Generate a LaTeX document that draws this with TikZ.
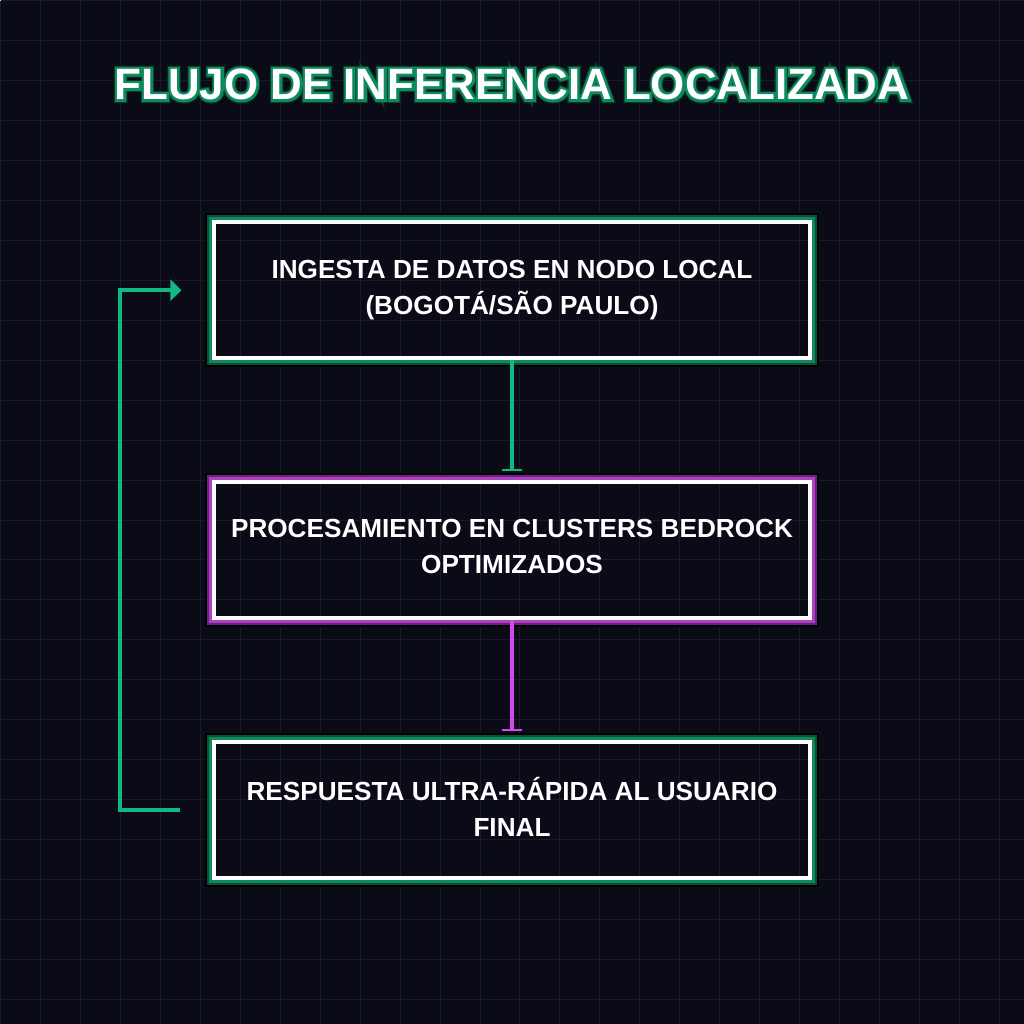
\documentclass[tikz,border=0pt]{standalone}
\usepackage{fontspec}
\setmainfont{Liberation Sans}
\newfontfamily\titleouterfont[FakeBold=16]{Liberation Sans Bold}
\newfontfamily\titleinnerfont[FakeBold=11]{Liberation Sans Bold}
\usepackage{tikz}
\usetikzlibrary{arrows.meta,positioning,calc}

\definecolor{bgdark}{HTML}{0B0B18}
\definecolor{gridline}{HTML}{1A1A2E}
\definecolor{emerald}{HTML}{10B981}
\definecolor{fuchsia}{HTML}{D946EF}
\definecolor{glowgreen}{HTML}{0F8A5F}
\definecolor{glowgreendark}{HTML}{0B4F36}
\definecolor{glowpink}{HTML}{B040C0}
\definecolor{glowpinkdark}{HTML}{6A2080}
\definecolor{titlering}{HTML}{063D2A}

\begin{document}
\begin{tikzpicture}[
  x=0.02cm, y=-0.02cm,
  font=\bfseries,
  stage/.style={draw=white, line width=0.08cm, minimum width=11.92cm, minimum height=2.72cm,
    align=center, text=white, font=\bfseries\fontsize{14.9}{20.5}\selectfont,
    execute at begin node=\rule{0pt}{15.2pt}, execute at end node=\rule[-3.6pt]{0pt}{3.6pt}},
  titletext/.style={font=\bfseries\fontsize{25}{30}\selectfont},
  flow/.style={-{Bar[width=0.42cm,line width=0.04cm]}, line width=0.08cm, shorten >=0.18cm},
  loopback/.style={-{Triangle[length=0.22cm,width=0.42cm]}, line width=0.08cm, emerald}
]
% background and grid
\fill[bgdark] (0,0) rectangle (1024,1024);
\foreach \g in {0,40,...,1000} {
  \draw[gridline, line width=0.02cm] (\g,0) -- (\g,1024);
  \draw[gridline, line width=0.02cm] (0,\g) -- (1024,\g);
}
\useasboundingbox (0,0) rectangle (1024,1024);

% title with glow
\node[titletext, font=\titleouterfont\fontsize{25}{30}\selectfont, text=titlering] (titleouter) at (512,84) {FLUJO DE INFERENCIA LOCALIZADA};
\node[titletext, font=\titleinnerfont\fontsize{25}{30}\selectfont, text=glowgreen] (titleinner) at (titleouter) {FLUJO DE INFERENCIA LOCALIZADA};
\node[titletext, text=white] (title) at (titleouter) {FLUJO DE INFERENCIA LOCALIZADA};

% stages
\node[stage] (ingest) at (512,290) {INGESTA DE DATOS EN NODO LOCAL\\(BOGOTÁ/SÃO PAULO)};
\node[stage] (process) at (512,550) {PROCESAMIENTO EN CLUSTERS BEDROCK\\OPTIMIZADOS};
\node[stage] (answer) at (512,810) {RESPUESTA ULTRA-RÁPIDA AL USUARIO\\FINAL};

% glow round the stages
\foreach \n/\c/\d in {ingest/glowgreen/glowgreendark, process/glowpink/glowpinkdark, answer/glowgreen/glowgreendark} {
  \draw[black, line width=0.04cm] ($(\n.north west)+(-6,-6)$) rectangle ($(\n.south east)+(6,6)$);
  \draw[\d, line width=0.04cm] ($(\n.north west)+(-4,-4)$) rectangle ($(\n.south east)+(4,4)$);
  \draw[\c, line width=0.06cm] ($(\n.north west)+(-1.5,-1.5)$) rectangle ($(\n.south east)+(1.5,1.5)$);
}

% connectors
\draw[flow, emerald] (ingest.south) -- (process.north);
\draw[flow, fuchsia] (process.south) -- (answer.north);

\coordinate (loopstart) at ($(answer.west)+(-32,0)$);
\coordinate (loopcorner) at ($(ingest.west)+(-92,0)$);
\coordinate (loopend) at ($(ingest.west)+(-31,0)$);
\draw[loopback] (loopstart) -| (loopcorner) -- (loopend);
\end{tikzpicture}
\end{document}
